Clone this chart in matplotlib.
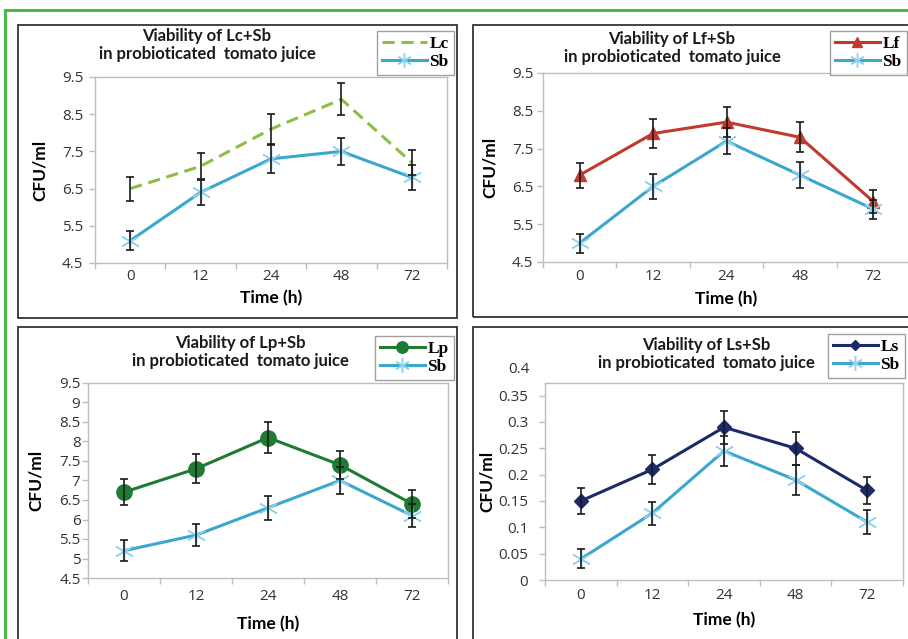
import matplotlib
matplotlib.use("Agg")
import matplotlib.pyplot as plt
from matplotlib.patches import Rectangle
from matplotlib.lines import Line2D
from matplotlib.ticker import FixedLocator
import numpy as np

# ---------------- data ----------------
time_labels = ["0", "12", "24", "48", "72"]

lc_vals = [6.5, 7.1, 8.1, 8.9, 7.2]
lc_err = [0.32, 0.35, 0.40, 0.43, 0.33]
sb1_vals = [5.1, 6.4, 7.3, 7.5, 6.8]
sb1_err = [0.25, 0.33, 0.38, 0.36, 0.33]

lf_vals = [6.8, 7.9, 8.2, 7.8, 6.1]
lf_err = [0.33, 0.38, 0.40, 0.40, 0.30]
sb2_vals = [5.0, 6.5, 7.7, 6.8, 5.9]
sb2_err = [0.25, 0.33, 0.35, 0.34, 0.25]

lp_vals = [6.7, 7.3, 8.1, 7.4, 6.4]
lp_err = [0.33, 0.37, 0.40, 0.35, 0.35]
sb3_vals = [5.2, 5.6, 6.3, 7.0, 6.1]
sb3_err = [0.27, 0.28, 0.31, 0.35, 0.30]

ls_vals = [0.15, 0.21, 0.29, 0.25, 0.17]
ls_err = [0.024, 0.027, 0.031, 0.031, 0.025]
sb4_vals = [0.04, 0.127, 0.245, 0.19, 0.11]
sb4_err = [0.018, 0.022, 0.029, 0.028, 0.022]

yticks_a = [4.5, 5.5, 6.5, 7.5, 8.5, 9.5]
yticks_b = [4.5, 5, 5.5, 6, 6.5, 7, 7.5, 8, 8.5, 9, 9.5]
yticks_c = [0, 0.05, 0.1, 0.15, 0.2, 0.25, 0.3, 0.35]

titles = ["Viability of Lc+Sb\nin probioticated  tomato juice",
          "Viability of Lf+Sb\nin probioticated  tomato juice",
          "Viability of Lp+Sb\nin probioticated  tomato juice",
          "Viability of Ls+Sb\nin probioticated  tomato juice"]

# ---------------- style ----------------
W, H = 908, 639
DPI = 100
SANS = ["Lato", "DejaVu Sans"]
TICKF = ["Open Sans", "DejaVu Sans"]
SERIF = ["Liberation Serif", "DejaVu Serif"]
C_SB = "#3BA7CE"
C_SB_MK = "#8CD2EC"
C_LC = "#8DBE45"
C_LF = "#C23A2E"
C_LP = "#1F7A33"
C_LS = "#1C2A68"
C_ERR = "#1a1a1a"
C_AX = "#BDBDBD"
C_TXT = "#333333"

fig = plt.figure(figsize=(W / DPI, H / DPI), dpi=DPI)
fig.patch.set_facecolor("white")


def fx(px):
    return px / W


def fy(py):
    return 1 - py / H


def add_axes_px(l, t, r, b):
    return fig.add_axes([fx(l), fy(b), fx(r) - fx(l), (b - t) / H])


# green frame
fig.add_artist(Line2D([fx(5), fx(910)], [fy(10), fy(10)], color="#4DB84A", lw=2.2,
                      transform=fig.transFigure))
fig.add_artist(Line2D([fx(5), fx(5)], [fy(10), fy(645)], color="#4DB84A", lw=2.2,
                      transform=fig.transFigure))

# panel boxes
for (l, t, r, b) in [(18, 25, 457, 318), (473, 25, 915, 317),
                     (18, 327, 457, 650), (473, 327, 915, 650)]:
    fig.add_artist(Rectangle((fx(l), fy(b)), fx(r) - fx(l), (b - t) / H,
                             transform=fig.transFigure, fill=False,
                             edgecolor="#222222", lw=1.2))


def style_axes(ax, yticks, ylim, ypad, xpad, ylab_x, xlab_y):
    x = np.arange(len(time_labels))
    ax.set_xlim(-0.5, len(time_labels) - 0.5)
    ax.set_ylim(*ylim)
    ax.set_xticks(x)
    ax.set_xticklabels(time_labels, fontfamily=TICKF, fontsize=11, color=C_TXT)
    ax.xaxis.set_minor_locator(FixedLocator(np.arange(-0.5, len(time_labels), 1.0)))
    ax.tick_params(axis="x", which="major", length=0, pad=xpad)
    ax.tick_params(axis="x", which="minor", length=4, color=C_AX, width=1)
    ax.set_yticks(yticks)
    ax.set_yticklabels([f"{v:g}" for v in yticks], fontfamily=TICKF, fontsize=11,
                       color=C_TXT)
    ax.tick_params(axis="y", length=4, color=C_AX, width=1, pad=ypad)
    for s in ax.spines.values():
        s.set_color(C_AX)
        s.set_linewidth(1)
    ax.set_xlabel("Time (h)", fontfamily=SANS, fontsize=12.5, fontweight="bold")
    ax.xaxis.set_label_coords(0.5, xlab_y)
    ax.xaxis.label.set_verticalalignment("top")
    ax.set_ylabel("CFU/ml", fontfamily=SANS, fontsize=12.5, fontweight="bold")
    ax.yaxis.set_label_coords(ylab_x, 0.5)
    ax.yaxis.label.set_verticalalignment("center")


def plot_series(ax, vals, err, color, marker, ms, mfc, mec, ls="-", label=None,
                mew=1.0, dashes=None):
    x = np.arange(len(vals))
    kw = {}
    if dashes is not None:
        kw["dashes"] = dashes
    line, = ax.plot(x, vals, color=color, lw=2.2, ls=ls, marker=marker, ms=ms,
                    mfc=mfc, mec=mec, mew=mew, label=label, zorder=3, **kw)
    ax.errorbar(x, vals, yerr=err, fmt="none", ecolor=C_ERR, elinewidth=1.2,
                capsize=2.6, capthick=1.2, zorder=4)
    return line


def legend(ax, handles, right, top):
    leg = fig.legend(handles=handles, loc="upper right",
                     bbox_to_anchor=(fx(right), fy(top)),
                     bbox_transform=fig.transFigure,
                     prop={"family": SERIF, "weight": "bold", "size": 12.5},
                     frameon=True, fancybox=False, borderpad=0.3,
                     handlelength=2.6, handletextpad=0.15, labelspacing=0.1,
                     borderaxespad=0, markerscale=0.75)
    leg.get_frame().set_edgecolor("#8a8a8a")
    leg.get_frame().set_linewidth(1.0)
    return leg


def title(cx, cy, text):
    fig.text(fx(cx), fy(cy), text, ha="center", va="center", fontfamily=SANS,
             fontsize=12, fontweight="bold", linespacing=1.15, color="#1a1a1a")


SB_MARK = (6, 2, 0)

# ---- panel 1 ----
ax1 = add_axes_px(95, 77, 447, 263)
h1 = plot_series(ax1, lc_vals, lc_err, C_LC, None, 0, C_LC, C_LC, ls="--",
                 label="Lc", dashes=(4, 2.2))
h2 = plot_series(ax1, sb1_vals, sb1_err, C_SB, SB_MARK, 14, C_SB_MK, C_SB_MK, label="Sb")
style_axes(ax1, yticks_a, (4.5, 9.5), 4.3, 4, -0.156, -0.145)
legend(ax1, [h1, h2], 454, 31)
title(207, 45, titles[0])

# ---- panel 2 ----
ax2 = add_axes_px(543, 73, 910, 262)
h1 = plot_series(ax2, lf_vals, lf_err, C_LF, "^", 9, C_LF, C_LF, label="Lf")
h2 = plot_series(ax2, sb2_vals, sb2_err, C_SB, SB_MARK, 14, C_SB_MK, C_SB_MK, label="Sb")
style_axes(ax2, yticks_a, (4.5, 9.5), 2.9, 5, -0.144, -0.153)
legend(ax2, [h1, h2], 907, 31)
title(672, 48, titles[1])

# ---- panel 3 ----
ax3 = add_axes_px(88, 383, 448, 578)
h1 = plot_series(ax3, lp_vals, lp_err, C_LP, "o", 11, C_LP, C_LP, label="Lp")
h2 = plot_series(ax3, sb3_vals, sb3_err, C_SB, SB_MARK, 14, C_SB_MK, C_SB_MK, label="Sb")
style_axes(ax3, yticks_b, (4.5, 9.5), 1.4, 8, -0.144, -0.195)
legend(ax3, [h1, h2], 454, 336)
title(240, 352, titles[2])

# ---- panel 4 ----
ax4 = add_axes_px(545, 383, 903, 580)
h1 = plot_series(ax4, ls_vals, ls_err, C_LS, "D", 7, C_LS, C_LS, label="Ls")
h2 = plot_series(ax4, sb4_vals, sb4_err, C_SB, SB_MARK, 14, C_SB_MK, C_SB_MK, label="Sb")
style_axes(ax4, yticks_c, (0, 0.374), 8, 5.8, -0.162, -0.162)
ax4.text(-15 / 358, 0.4, "0.4", transform=ax4.get_yaxis_transform(), ha="right",
         va="center", fontfamily=TICKF, fontsize=11, color=C_TXT, clip_on=False)
legend(ax4, [h1, h2], 905, 334)
title(706, 354, titles[3])

fig.savefig("out.png", dpi=DPI, facecolor="white")
